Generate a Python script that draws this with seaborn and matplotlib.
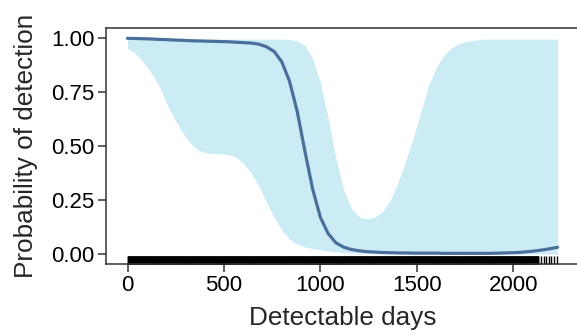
import numpy as np
import pandas as pd
import matplotlib
matplotlib.use("Agg")
import matplotlib.pyplot as plt
import seaborn as sns

# values
days = [0, 40, 80, 120, 160, 200, 240, 280, 320, 360, 400, 440, 480, 520, 560,
        600, 640, 680, 720, 760, 800, 840, 880, 920, 960, 1000, 1040, 1080, 1120,
        1160, 1200, 1240, 1280, 1320, 1360, 1400, 1440, 1480, 1520, 1560, 1600,
        1640, 1680, 1720, 1760, 1800, 1840, 1880, 1920, 1960, 2000, 2040, 2080,
        2120, 2160, 2200, 2230]
prob_mean = [0.999, 0.998, 0.997, 0.996, 0.994, 0.993, 0.991, 0.990, 0.988, 0.987,
             0.986, 0.985, 0.984, 0.983, 0.981, 0.979, 0.977, 0.972, 0.960, 0.938,
             0.890, 0.800, 0.660, 0.475, 0.300, 0.170, 0.095, 0.052, 0.032, 0.021,
             0.015, 0.011, 0.009, 0.007, 0.006, 0.005, 0.005, 0.004, 0.004, 0.004,
             0.004, 0.003, 0.003, 0.003, 0.003, 0.003, 0.003, 0.003, 0.004, 0.005,
             0.006, 0.008, 0.011, 0.015, 0.020, 0.026, 0.031]
prob_lower = [0.952, 0.930, 0.890, 0.843, 0.785, 0.703, 0.630, 0.570, 0.518, 0.484,
              0.470, 0.466, 0.464, 0.461, 0.450, 0.421, 0.377, 0.315, 0.240, 0.170,
              0.112, 0.068, 0.045, 0.033, 0.025, 0.019, 0.014, 0.010, 0.007, 0.005,
              0.003, 0.002, 0.002, 0.001, 0.001, 0.001, 0.001, 0.001, 0.001, 0.001,
              0.000, 0.000, 0.000, 0.000, 0.000, 0.000, 0.000, 0.000, 0.000, 0.000,
              0.000, 0.000, 0.000, 0.000, 0.000, 0.000, 0.000]
prob_upper = [0.995, 0.995, 0.995, 0.995, 0.995, 0.995, 0.995, 0.995, 0.995, 0.995,
              0.995, 0.995, 0.995, 0.995, 0.995, 0.995, 0.995, 0.995, 0.995, 0.995,
              0.995, 0.993, 0.987, 0.965, 0.905, 0.795, 0.630, 0.445, 0.300, 0.213,
              0.173, 0.162, 0.170, 0.195, 0.245, 0.325, 0.425, 0.535, 0.655, 0.780,
              0.862, 0.920, 0.955, 0.975, 0.985, 0.990, 0.995, 0.995, 0.995, 0.995,
              0.995, 0.995, 0.995, 0.995, 0.995, 0.995, 0.995]

# observed detectable days (rug): continuous block plus a few sparse ones
rug_block = (0, 2130)
rug_sparse = [1864, 2145, 2157, 2169, 2183, 2197, 2212, 2226]

x_ticks = [0, 500, 1000, 1500, 2000]
y_ticks = [0.00, 0.25, 0.50, 0.75, 1.00]
y_tick_labels = ["0.00", "0.25", "0.50", "0.75", "1.00"]

sns.set_style("ticks")
plt.rcParams["font.family"] = ["Liberation Sans", "DejaVu Sans"]

df = pd.DataFrame({"days": days, "mean": prob_mean, "lower": prob_lower, "upper": prob_upper})
rug_days = np.concatenate([np.arange(rug_block[0], rug_block[1] + 1, 2), rug_sparse])

fig = plt.figure(figsize=(5.77, 3.33), dpi=100)
ax = fig.add_axes([0.1837, 0.2087, 0.82, 0.7087])

ax.fill_between(df["days"], df["lower"], df["upper"], color="#CBECF5", lw=0)
sns.lineplot(data=df, x="days", y="mean", ax=ax, color="#4A6F9C", lw=2.3)
sns.rugplot(x=rug_days, ax=ax, height=0.03, color="black", lw=0.8, clip_on=False)

ax.set_xlim(-111.5, 2341.5)
ax.set_ylim(-0.044, 1.049)
ax.set_xticks(x_ticks)
ax.set_yticks(y_ticks)
ax.set_yticklabels(y_tick_labels)

for side in ["left", "bottom", "top"]:
    ax.spines[side].set_color("#333333")
    ax.spines[side].set_linewidth(1.1)
ax.spines["right"].set_visible(False)
ax.tick_params(axis="both", length=5.5, width=1.1, color="#333333",
               labelsize=16, labelcolor="black", pad=3)

ax.set_xlabel("Detectable days", fontsize=18.8, labelpad=7)
ax.set_ylabel("Probability of detection", fontsize=18.8, labelpad=9)

fig.savefig("out.png", dpi=100)
